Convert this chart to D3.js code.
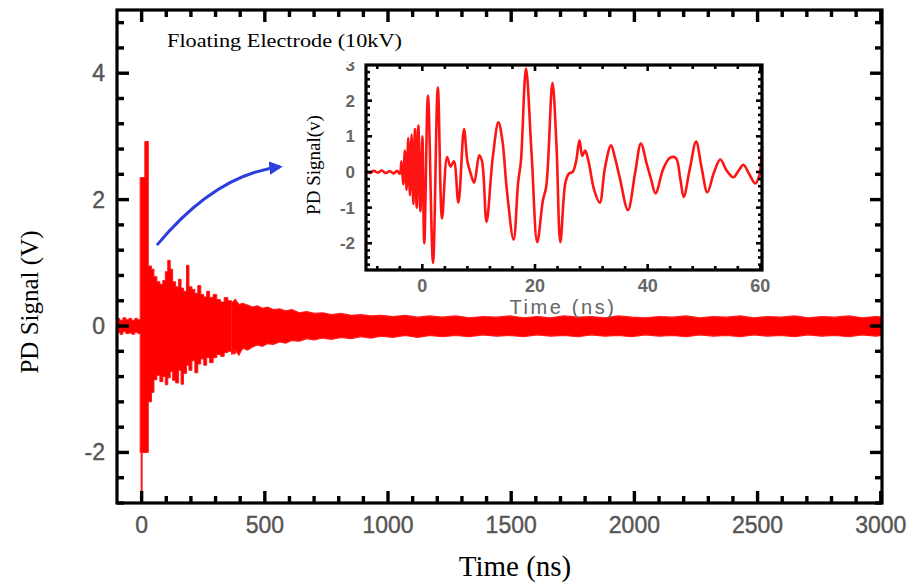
<!DOCTYPE html>
<html>
<head>
<meta charset="utf-8">
<script src="https://cdn.jsdelivr.net/npm/d3@7"></script>
<style>
  body { margin: 0; background: #fff; }
  svg { display: block; }
</style>
</head>
<body>
<svg id="chart"></svg>
<script>
// main trace, read as an upper/lower envelope of the dense red band
const mainTime = [-100, -88, -76, -64, -52, -40, -28, -16, -6, -2, 2, 13, 27, 40, 50, 62, 74, 86, 96, 106,
  116, 126, 138, 150, 160, 170, 182, 192, 204, 216, 228, 240, 252, 264, 276, 290, 305, 320, 335, 350,
  365, 380, 395, 410, 430, 450, 470, 490, 510, 535, 560, 585, 610, 640, 670, 700, 735, 770, 810, 850,
  890, 930, 970, 1020, 1070, 1120, 1170, 1220, 1275, 1330, 1385, 1440, 1495, 1550, 1605, 1660, 1715, 1770,
  1825, 1880, 1935, 1990, 2045, 2100, 2155, 2210, 2265, 2320, 2375, 2430, 2485, 2540, 2595, 2650, 2705,
  2760, 2815, 2870, 2925, 2980, 3005];
const mainHigh = [0.12, 0.09, 0.13, 0.10, 0.12, 0.09, 0.12, 0.10, 2.35, 2.35, 2.35, 2.92, 0.95, 0.90, 0.78, 0.70, 0.66, 0.72, 0.86, 1.04,
  0.90, 0.70, 0.62, 0.74, 0.60, 0.55, 0.96, 0.62, 0.58, 0.52, 0.64, 0.50, 0.46, 0.55, 0.45, 0.50, 0.42, 0.38, 0.45, 0.40,
  0.36, 0.42, 0.34, 0.36, 0.33, 0.30, 0.32, 0.28, 0.30, 0.26, 0.27, 0.24, 0.26, 0.21, 0.23, 0.20, 0.21, 0.18, 0.20, 0.17,
  0.18, 0.16, 0.17, 0.15, 0.17, 0.14, 0.16, 0.14, 0.16, 0.13, 0.15, 0.14, 0.16, 0.13, 0.15, 0.13, 0.16, 0.14,
  0.15, 0.13, 0.16, 0.14, 0.13, 0.15, 0.14, 0.16, 0.13, 0.15, 0.14, 0.16, 0.13, 0.15, 0.14, 0.16, 0.13,
  0.15, 0.14, 0.16, 0.13, 0.15, 0.14];
const mainLow = [-0.10, -0.13, -0.09, -0.12, -0.11, -0.13, -0.10, -0.12, -2.00, -2.63, -2.00, -2.00, -1.20, -1.05, -0.85, -0.78, -0.88, -0.80, -0.93, -0.82,
  -0.72, -0.86, -0.90, -0.70, -0.92, -0.75, -0.62, -0.70, -0.55, -0.74, -0.60, -0.52, -0.62, -0.50, -0.58, -0.50, -0.45, -0.48, -0.42, -0.40,
  -0.44, -0.38, -0.46, -0.35, -0.38, -0.33, -0.30, -0.32, -0.28, -0.29, -0.25, -0.27, -0.23, -0.24, -0.20, -0.22, -0.19, -0.21, -0.18, -0.20,
  -0.17, -0.19, -0.16, -0.18, -0.15, -0.18, -0.15, -0.17, -0.15, -0.17, -0.14, -0.16, -0.15, -0.17, -0.14, -0.16, -0.15, -0.17,
  -0.14, -0.16, -0.15, -0.17, -0.14, -0.16, -0.15, -0.17, -0.14, -0.16, -0.15, -0.17, -0.14, -0.16, -0.15, -0.17, -0.14,
  -0.16, -0.15, -0.17, -0.14, -0.16, -0.15];

// zoomed trace in the inset
const insetTime = [-10, -9.3, -8.6, -7.9, -7.2, -6.5, -5.8, -5.1, -4.5, -4.0, -3.7, -3.4, -3.1, -2.8, -2.5, -2.2, -1.9, -1.6, -1.3, -1.0,
  -0.7, -0.35, 0.0, 0.35, 1.0, 1.9, 2.75, 3.5, 4.4, 5.0, 5.6, 6.4, 7.4, 8.0, 8.5, 9.2, 10.1, 10.6, 11.4, 12.5,
  13.5, 14.2, 15.0, 16.2, 17.0, 17.5, 18.4, 19.4, 20.4, 21.4, 22.0, 23.1, 23.8, 24.5, 25.4, 26.0, 26.7, 27.3, 27.9, 28.4,
  28.9, 29.5, 30.5, 31.5, 32.4, 33.5, 34.2, 35.1, 36.5, 37.8, 38.8, 39.8, 40.6, 41.4, 42.8, 44.0, 45.0, 45.8, 46.4, 47.5,
  48.6, 49.6, 50.6, 51.8, 52.9, 54.0, 55.2, 56.2, 57.0, 58.0, 59.1, 59.8, 60.3];
const insetVolt = [0.02, -0.03, 0.03, -0.02, 0.04, -0.03, 0.02, -0.04, 0.03, -0.05, 0.30, -0.35, 0.60, -0.50, 0.95, -0.65, 1.05, -0.90, 1.20, -1.00,
  1.30, -1.10, 1.00, -2.00, 2.14, -2.55, 2.37, -1.30, 0.42, 0.15, 0.30, -0.86, 1.20, 0.30, 0.00, -0.30, 0.47, 0.30, -1.40, 0.40,
  1.39, 0.90, -0.50, -1.90, -0.30, 0.30, 2.90, 0.50, -1.97, -0.80, -0.40, 2.50, 0.80, -1.97, -0.30, -0.05, 0.00, 0.30, 0.89, 0.45,
  0.60, 0.30, -0.50, -0.86, 0.10, 0.75, 0.40, -0.20, -1.07, 0.00, 0.80, 0.25, -0.20, -0.60, 0.10, 0.40, 0.39, -0.20, -0.70, 0.10,
  0.85, 0.10, -0.57, 0.00, 0.35, 0.05, -0.15, 0.05, 0.20, -0.05, -0.32, -0.10, 0.70];

const mainXTicks = [0, 500, 1000, 1500, 2000, 2500, 3000];
const mainYTicks = [-2, 0, 2, 4];
const insetXTicks = [0, 20, 40, 60];
const insetYTicks = [-2, -1, 0, 1, 2, 3];

// blue arrow in data units of the main plot: start, control, end
const arrowTime = [62, 300, 562];
const arrowVolt = [1.28, 2.4, 2.52];

const width = 914;
const height = 584;
const tickFont = "'Liberation Sans', Arial, sans-serif";
const serif = "'Liberation Serif', 'Times New Roman', serif";

const svg = d3.select("#chart")
  .attr("width", width)
  .attr("height", height);

// frame plus inward ticks on all four sides; each tick is a small filled rect
function boxTicks(g, xs, ys, xMinor, yMinor, xMajor, yMajor, majorLen, minorLen, sw) {
  const [x0, x1] = xs.range();
  const [y0, y1] = ys.range();
  const marks = [];
  xMinor.forEach(v => {
    const len = xMajor.includes(v) ? majorLen : minorLen;
    marks.push({ x: xs(v) - sw / 2, y: y0 - len, w: sw, h: len });
    marks.push({ x: xs(v) - sw / 2, y: y1, w: sw, h: len });
  });
  yMinor.forEach(v => {
    const len = yMajor.includes(v) ? majorLen : minorLen;
    marks.push({ x: x0, y: ys(v) - sw / 2, w: len, h: sw });
    marks.push({ x: x1 - len, y: ys(v) - sw / 2, w: len, h: sw });
  });
  g.append("g")
    .attr("fill", "#000")
    .selectAll("rect")
    .data(marks)
    .join("rect")
    .attr("x", d => d.x).attr("y", d => d.y)
    .attr("width", d => d.w).attr("height", d => d.h);
  g.append("rect")
    .attr("x", x0).attr("y", y1)
    .attr("width", x1 - x0).attr("height", y0 - y1)
    .attr("fill", "none").attr("stroke", "#000").attr("stroke-width", 3.2);
}

// ---------- main plot ----------
const x = d3.scaleLinear().domain([-100, 3005]).range([117, 882]);
const y = d3.scaleLinear().domain([-2.8, 5]).range([503, 10]);

const band = mainTime.map((t, i) => ({ t, hi: mainHigh[i], lo: mainLow[i] }));

svg.append("clipPath").attr("id", "mainClip")
  .append("rect")
  .attr("x", 117).attr("y", 10)
  .attr("width", 882 - 117)
  .attr("height", 503 - 10);

const bandArea = d3.area()
  .x(d => x(d.t))
  .y0(d => y(d.lo))
  .y1(d => y(d.hi));

// spiky burst drawn stepwise, the decaying tail as a plain band
const plot = svg.append("g").attr("clip-path", "url(#mainClip)");
plot.append("path")
  .datum(band.filter(d => d.t <= 380))
  .attr("fill", "#ff0000")
  .attr("stroke", "#ff1a1a")
  .attr("stroke-width", 1)
  .attr("d", bandArea.curve(d3.curveStepAfter));
plot.append("path")
  .datum(band.filter(d => d.t >= 365))
  .attr("fill", "#ff0000")
  .attr("stroke", "#ff1a1a")
  .attr("stroke-width", 1.2)
  .attr("d", bandArea.curve(d3.curveLinear));

svg.append("g")
  .attr("font-family", tickFont)
  .attr("font-size", 23)
  .attr("fill", "#555")
  .attr("stroke", "#555")
  .attr("stroke-width", 0.4)
  .attr("text-anchor", "middle")
  .selectAll("text")
  .data(mainXTicks)
  .join("text")
  .attr("x", d => x(d))
  .attr("y", 533)
  .text(d => d);

svg.append("g")
  .attr("font-family", tickFont)
  .attr("font-size", 23)
  .attr("fill", "#555")
  .attr("stroke", "#555")
  .attr("stroke-width", 0.4)
  .attr("text-anchor", "end")
  .selectAll("text")
  .data(mainYTicks)
  .join("text")
  .attr("x", 105)
  .attr("y", d => y(d) + 8)
  .text(d => d);

svg.append("text")
  .attr("x", 515).attr("y", 576)
  .attr("text-anchor", "middle")
  .attr("font-family", serif)
  .attr("font-size", 29)
  .text("Time (ns)");

svg.append("text")
  .attr("transform", "translate(38,302) rotate(-90)")
  .attr("text-anchor", "middle")
  .attr("font-family", serif)
  .attr("font-size", 25)
  .text("PD Signal (V)");

svg.append("text")
  .attr("x", 167).attr("y", 47)
  .attr("font-family", serif)
  .attr("font-size", 19)
  .attr("textLength", 235)
  .attr("lengthAdjust", "spacingAndGlyphs")
  .text("Floating Electrode (10kV)");

// blue arrow
svg.append("defs").append("marker")
  .attr("id", "head")
  .attr("viewBox", "0 0 10 10")
  .attr("refX", 8).attr("refY", 5)
  .attr("markerWidth", 4.5).attr("markerHeight", 4.5)
  .attr("orient", "auto")
  .append("path")
  .attr("d", "M0,0 L10,5 L0,10 Z")
  .attr("fill", "#2b3fe0");

const ap = d3.path();
ap.moveTo(x(arrowTime[0]), y(arrowVolt[0]));
ap.quadraticCurveTo(x(arrowTime[1]), y(arrowVolt[1]), x(arrowTime[2]), y(arrowVolt[2]));
svg.append("path")
  .attr("d", ap.toString())
  .attr("fill", "none")
  .attr("stroke", "#2b3fe0")
  .attr("stroke-width", 3)
  .attr("marker-end", "url(#head)");

// ---------- inset ----------
const xi = d3.scaleLinear().domain([-10, 60.3]).range([366, 762]);
const yi = d3.scaleLinear().domain([-2.75, 3]).range([270, 65]);

svg.append("rect")
  .attr("x", 366).attr("y", 65)
  .attr("width", 762 - 366).attr("height", 270 - 65)
  .attr("fill", "#fff");

svg.append("clipPath").attr("id", "insetClip")
  .append("rect")
  .attr("x", 366).attr("y", 62)
  .attr("width", 762 - 366 + 2).attr("height", 270 - 62);

svg.append("path")
  .datum(insetTime.map((t, i) => [t, insetVolt[i]]))
  .attr("clip-path", "url(#insetClip)")
  .attr("fill", "none")
  .attr("stroke", "#ff1414")
  .attr("stroke-width", 2.6)
  .attr("stroke-linejoin", "round")
  .attr("d", d3.line()
    .x(d => xi(d[0]))
    .y(d => yi(d[1]))
    .curve(d3.curveCatmullRom.alpha(0.5)));

svg.append("clipPath").attr("id", "insetLabelClip")
  .append("rect")
  .attr("x", 300).attr("y", 62).attr("width", 80).attr("height", 220);

svg.append("g")
  .attr("clip-path", "url(#insetLabelClip)")
  .attr("font-family", tickFont)
  .attr("font-size", 17)
  .attr("font-weight", "bold")
  .attr("fill", "#666")
  .attr("text-anchor", "end")
  .selectAll("text")
  .data(insetYTicks)
  .join("text")
  .attr("x", 355)
  .attr("y", d => yi(d) + 6)
  .text(d => d);

svg.append("g")
  .attr("font-family", tickFont)
  .attr("font-size", 18)
  .attr("font-weight", "bold")
  .attr("fill", "#666")
  .attr("text-anchor", "middle")
  .selectAll("text")
  .data(insetXTicks)
  .join("text")
  .attr("x", d => xi(d))
  .attr("y", 292)
  .text(d => d);

svg.append("text")
  .attr("x", 563).attr("y", 314)
  .attr("text-anchor", "middle")
  .attr("font-family", tickFont)
  .attr("font-size", 20)
  .attr("letter-spacing", 2.6)
  .attr("fill", "#666")
  .text("Time (ns)");

svg.append("text")
  .attr("transform", "translate(320,165) rotate(-90)")
  .attr("text-anchor", "middle")
  .attr("font-family", serif)
  .attr("font-size", 19)
  .text("PD Signal(v)");

// frames and ticks last, on top of everything
boxTicks(svg.append("g"), x, y,
  d3.range(0, 3001, 100),
  d3.range(-28, 49, 4).map(v => +(v / 10).toFixed(1)),
  mainXTicks, mainYTicks, 12, 7, 3.4);
boxTicks(svg.append("g"), xi, yi,
  d3.range(-8, 61, 4),
  d3.range(-26, 30, 2).map(v => +(v / 10).toFixed(1)),
  [0, 20, 40, 60], insetYTicks, 6, 4, 2.6);
</script>
</body>
</html>
